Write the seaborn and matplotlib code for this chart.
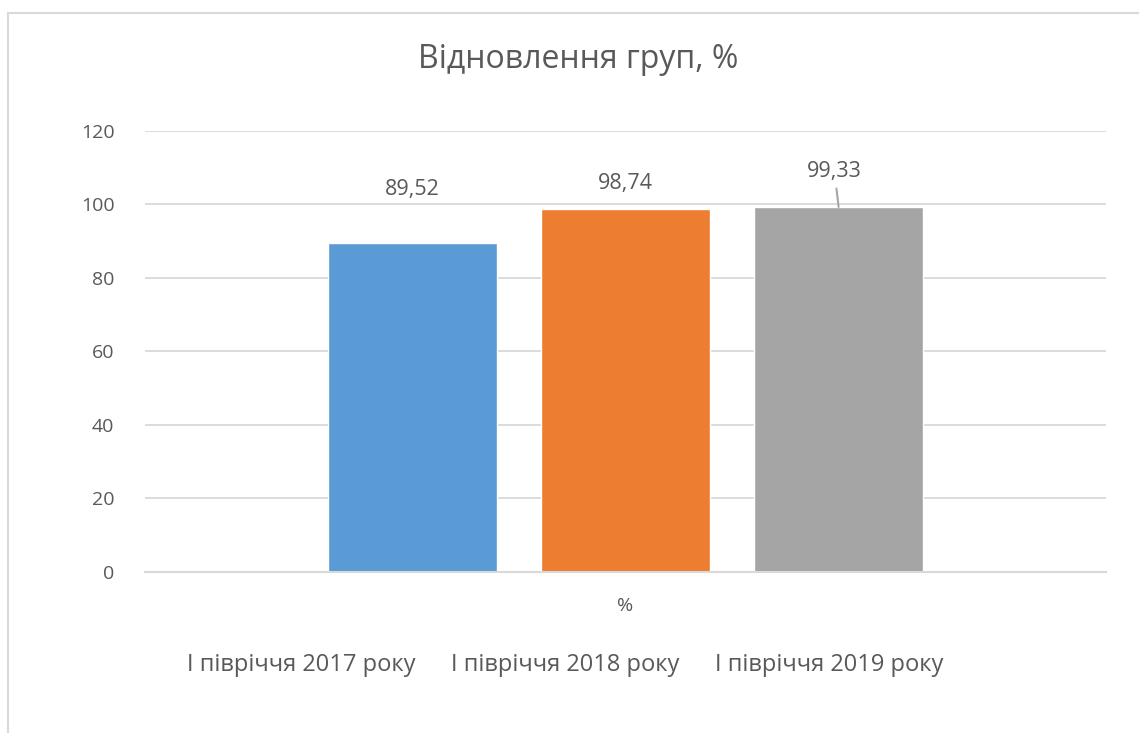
import numpy as np
import pandas as pd
import matplotlib
matplotlib.use('Agg')
import matplotlib.pyplot as plt
from matplotlib.patches import Rectangle
import seaborn as sns

# Дані
series = ['І півріччя 2017 року', 'І півріччя 2018 року', 'І півріччя 2019 року']
values = [89.52, 98.74, 99.33]
labels = ['89,52', '98,74', '99,33']
category = '%'
colors = ['#5b9bd5', '#ed7d31', '#a5a5a5']

df = pd.DataFrame({'cat': [category] * len(series), 'series': series, 'value': values})

sns.set_style('white')
plt.rcParams['font.family'] = ['Open Sans', 'DejaVu Sans']
txt = '#595959'
grid = '#d9d9d9'

fig = plt.figure(figsize=(11.39, 7.33), dpi=100)
ax = fig.add_axes([0.1273, 0.2197, 0.8438, 0.6016])

sns.barplot(df, x='cat', y='value', hue='series', palette=colors,
            width=0.665, gap=0.21, saturation=1, ax=ax)

ax.set_xlim(-0.5, 0.5)
ax.set_ylim(0, 120)
ax.set_yticks(range(0, 121, 20))
ax.yaxis.grid(True, color=grid, lw=1.3)
ax.set_axisbelow(True)
for s in ['top', 'right', 'left']:
    ax.spines[s].set_visible(False)
ax.spines['bottom'].set_color(grid)
ax.spines['bottom'].set_linewidth(1.5)

ax.tick_params(axis='y', length=0, labelsize=14, labelcolor=txt, pad=22)
ax.tick_params(axis='x', which='major', length=0, labelsize=14, labelcolor=txt, pad=18)
ax.set_xticks([-0.5, 0.5], minor=True)
ax.tick_params(axis='x', which='minor', length=6, width=1.5, color=grid)
ax.set_xlabel('')
ax.set_ylabel('')

fig.text(578 / 1139, 1 - 60 / 733, 'Відновлення груп, %', fontsize=23,
         color=txt, ha='center', va='center')

# підписи даних
offsets = [53, 26, 35]
for cont, lab, off in zip(ax.containers, labels, offsets):
    bar = cont[0]
    xc = bar.get_x() + bar.get_width() / 2
    h = bar.get_height()
    if lab == labels[-1]:
        ax.annotate(lab, (xc, h), xytext=(-4, off), textcoords='offset pixels',
                    ha='center', va='center', fontsize=15.5, color=txt,
                    arrowprops=dict(arrowstyle='-', color='#a6a6a6', lw=1.5,
                                    shrinkA=2, shrinkB=0))
    else:
        ax.annotate(lab, (xc, h), xytext=(0, off), textcoords='offset pixels',
                    ha='center', va='center', fontsize=15.5, color=txt)

ax.get_legend().remove()
handles = [Rectangle((0, 0), 1, 1, visible=False) for _ in series]
leg = fig.legend(handles, series, loc='center', bbox_to_anchor=(565 / 1139, 1 - 665 / 733),
                 ncol=3, frameon=False, handlelength=0, handletextpad=0,
                 columnspacing=1.5, fontsize=17)
for t in leg.get_texts():
    t.set_color(txt)

fig.patches.append(Rectangle((8 / 1139, -0.05), 1.2, 1.05 - 13 / 733,
                             transform=fig.transFigure, fill=False,
                             edgecolor=grid, lw=1.5))

fig.savefig('out.png', dpi=100, facecolor='white')
